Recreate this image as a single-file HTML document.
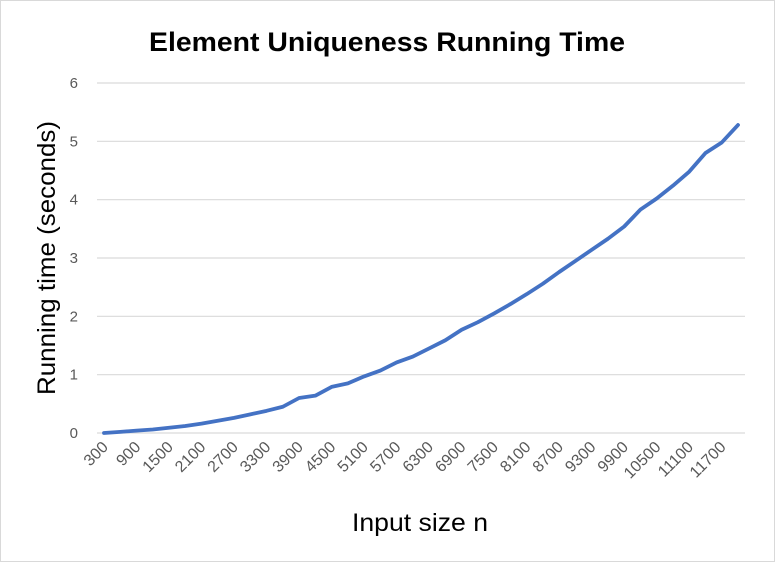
<!DOCTYPE html>
<html><head><meta charset="utf-8"><style>
body{margin:0;background:#fff;}
svg{display:block;font-family:"Liberation Sans",sans-serif;}
</style></head><body>
<svg id="chart" width="775" height="562">
<rect x="0.5" y="0.5" width="774" height="561" fill="#fff" stroke="#d9d9d9"/>
<text x="387" y="51" text-anchor="middle" font-size="27" font-weight="bold" fill="#000" textLength="476" lengthAdjust="spacingAndGlyphs">Element Uniqueness Running Time</text>
<text transform="translate(55,258) rotate(-90)" text-anchor="middle" font-size="25" fill="#000" textLength="274" lengthAdjust="spacingAndGlyphs">Running time (seconds)</text>
<text x="420" y="531" text-anchor="middle" font-size="25" fill="#000" textLength="136" lengthAdjust="spacingAndGlyphs">Input size n</text>
<g id="grid"></g><g id="yticks"></g><g id="xticks"></g><g id="series"></g>
</svg>
<script>
const categories=[];for(let n=300;n<=12000;n+=300)categories.push(n);
const values=[0,0.02,0.04,0.06,0.09,0.12,0.16,0.21,0.26,0.32,0.38,0.45,0.6,0.64,0.79,0.85,0.97,1.07,1.21,1.31,1.45,1.59,1.77,1.9,2.05,2.21,2.38,2.56,2.76,2.95,3.14,3.33,3.54,3.83,4.02,4.24,4.48,4.8,4.98,5.28];
const yTicks=[0,1,2,3,4,5,6];
const NS="http://www.w3.org/2000/svg";
const x0=104,x1=738,yb=433,yt=83,ymax=6;
const xs=i=>x0+(x1-x0)*i/(categories.length-1);
const ys=v=>yb-(yb-yt)*v/ymax;
function mk(t,a,p){const e=document.createElementNS(NS,t);for(const k in a)e.setAttribute(k,a[k]);p.appendChild(e);return e;}
const grid=document.getElementById('grid'),yt_=document.getElementById('yticks'),xt=document.getElementById('xticks'),se=document.getElementById('series');
yTicks.forEach(v=>{
 const l=mk('line',{x1:97,x2:745,y1:ys(v),y2:ys(v),stroke:'#d9d9d9','stroke-width':1.2},grid);
 
 
 const t=mk('text',{x:78,y:ys(v)+5,'text-anchor':'end','font-size':15,fill:'#595959'},yt_);
 t.textContent=v;
 
 
});
categories.forEach((c,i)=>{
 if(i%2)return;
 const x=xs(i)+5,y=448;
 const t=mk('text',{x:x,y:y,'text-anchor':'end','font-size':16,fill:'#595959',transform:`rotate(-45 ${x} ${y})`},xt);
 t.textContent=c;
 
 
});
const p=mk('polyline',{points:values.map((v,i)=>xs(i)+','+ys(v)).join(' '),fill:'none',stroke:'#4472c4','stroke-width':3.8,'stroke-linejoin':'round','stroke-linecap':'round'},se);


</script>
</body></html>
